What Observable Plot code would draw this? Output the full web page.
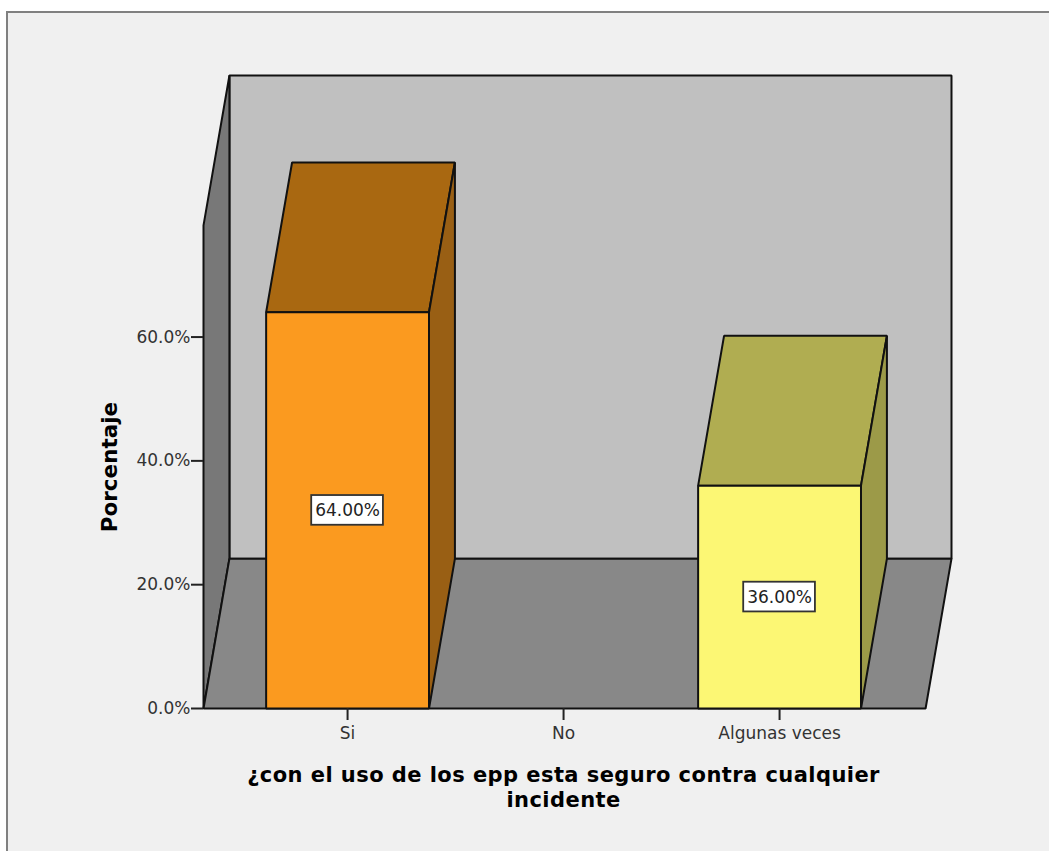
<!DOCTYPE html>
<html>
<head>
<meta charset="utf-8">
<script src="https://cdn.jsdelivr.net/npm/d3@7"></script>
<script src="https://cdn.jsdelivr.net/npm/@observablehq/plot@0.6"></script>
<style>
  html, body { margin: 0; padding: 0; background: #fff; overflow: hidden; }
  #panel { position: absolute; left: 6px; top: 11px; width: 1060px; height: 860px; background: #f0f0f0; border: 2px solid #808080; box-sizing: border-box; }
  #chart { position: absolute; left: 0; top: 0; }
  #chart svg { background: transparent; display: block; }
  .x-title, .x-title text { letter-spacing: 0.44px; }
</style>
</head>
<body>
<div id="panel"></div>
<div id="chart"></div>
<script>
const categories = ["Si", "No", "Algunas veces"];
const positions = [0, 1, 2];
const percentages = [64, 0, 36];
const labels = ["64.00%", null, "36.00%"];
const frontColors = ["#fb9a1f", null, "#fcf774"];
const topColors = ["#a96811", null, "#b0ad51"];
const sideColors = ["#995f14", null, "#9c9a48"];
const yTicks = [0, 20, 40, 60];
const xTitle = "¿con el uso de los epp esta seguro contra cualquier\nincidente";
const yTitle = "Porcentaje";

// Extent of the 3D box, in data units
const xLeft = -0.667, xRight = 2.676, yFrontTop = 78.05;
const depthX = 0.12, depthY = 24.2;
const barHalf = 0.377, boxHalfX = 0.166, boxHalfY = 2.4;

const edge = "#111";
const poly = (pts, fill) => Plot.line(pts, {
  x: d => d[0], y: d => d[1], fill, stroke: edge, strokeWidth: 2,
  curve: "linear-closed", strokeLinejoin: "miter"
});

const shell = [
  poly([[xLeft + depthX, depthY], [xRight + depthX, depthY], [xRight + depthX, yFrontTop + depthY], [xLeft + depthX, yFrontTop + depthY]], "#c0c0c0"),
  poly([[xLeft, 0], [xLeft + depthX, depthY], [xLeft + depthX, yFrontTop + depthY], [xLeft, yFrontTop]], "#787878"),
  poly([[xLeft, 0], [xRight, 0], [xRight + depthX, depthY], [xLeft + depthX, depthY]], "#888888")
];

const bars = positions.flatMap((p, i) => {
  const v = percentages[i];
  if (!v) return [];
  const a = p - barHalf, b = p + barHalf;
  return [
    poly([[a, v], [b, v], [b + depthX, v + depthY], [a + depthX, v + depthY]], topColors[i]),
    poly([[b, 0], [b + depthX, depthY], [b + depthX, v + depthY], [b, v]], sideColors[i]),
    poly([[a, 0], [b, 0], [b, v], [a, v]], frontColors[i]),
    Plot.rect([i], {
      x1: () => p - boxHalfX, x2: () => p + boxHalfX,
      y1: () => v / 2 - boxHalfY, y2: () => v / 2 + boxHalfY,
      fill: "#fff", stroke: "#333", strokeWidth: 1.8
    }),
    Plot.text([labels[i]], {
      x: () => p, y: () => v / 2, text: d => d,
      fontSize: 17, fill: "#222", fontFamily: "DejaVu Sans", lineAnchor: "middle"
    })
  ];
});

const chart = Plot.plot({
  width: 1049,
  height: 851,
  marginLeft: 203,
  marginRight: 98,
  marginTop: 75,
  marginBottom: 143,
  style: { background: "transparent", fontFamily: "DejaVu Sans", overflow: "visible" },
  x: { domain: [xLeft, xRight + depthX] },
  y: { domain: [0, yFrontTop + depthY] },
  marks: [
    ...shell,
    ...bars,
    Plot.axisX({
      anchor: "bottom", ticks: positions, tickFormat: i => categories[i],
      tickSize: 12, tickPadding: 6, label: null, fontSize: 17, fill: "#333", stroke: "#222", strokeWidth: 2
    }),
    Plot.axisY({
      anchor: "left", ticks: yTicks, tickFormat: d => d.toFixed(1) + "%",
      tickSize: 12, tickPadding: 1, label: null, fontSize: 17, fill: "#333", stroke: "#222", strokeWidth: 2
    }),
    Plot.text([xTitle], {
      x: () => 1, frameAnchor: "bottom", dy: 98, text: d => d, lineAnchor: "bottom",
      lineHeight: 1.15, fontSize: 21, fontWeight: "bold", fontFamily: "DejaVu Sans", fill: "#000",
      className: "x-title"
    }),
    Plot.text([yTitle], {
      y: () => 39, frameAnchor: "left", textAnchor: "middle", dx: -93, text: d => d, rotate: -90,
      fontSize: 21.5, fontWeight: "bold", fontFamily: "DejaVu Sans", fill: "#000"
    })
  ]
});
document.getElementById("chart").append(chart);
</script>
</body>
</html>
